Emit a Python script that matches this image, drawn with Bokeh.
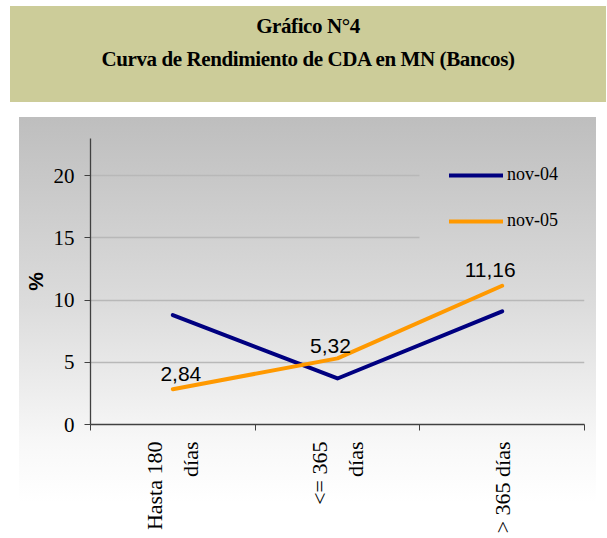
import math
from bokeh.plotting import figure
from bokeh.models import (FixedTicker, Legend, LegendItem, Div, Grid, Range1d)
from bokeh.layouts import column
from bokeh.embed import file_html
from bokeh.resources import INLINE
from bokeh.core.properties import value

# ---- data ----
categories = ["Hasta 180\ndías", "<= 365\ndías", "> 365 días"]
nov04 = [8.8, 3.7, 9.1]
nov05 = [2.84, 5.32, 11.16]
series_names = ["nov-04", "nov-05"]
y_ticks = [0, 5, 10, 15, 20]
title_line1 = "Gráfico N°4"
title_line2 = "Curva de Rendimiento de CDA en MN (Bancos)"

xc = [i + 0.5 for i in range(len(categories))]
label_texts = [f"{v:.2f}".replace(".", ",") for v in nov05]

# ---- title box ----
title = Div(
    text=(
        '<div style="width:596px;height:96px;background:#cccc99;'
        'text-align:center;font-family:\'Liberation Serif\', serif;font-weight:bold;'
        'font-size:21px;letter-spacing:-0.4px;line-height:33px;padding-top:4px;'
        'box-sizing:border-box;color:#000;">'
        f'{title_line1}<br>{title_line2}</div>'
    ),
    width=596, height=96, margin=(6, 0, 0, 10),
)

# ---- chart ----
p = figure(width=577, height=419, output_backend="svg", toolbar_location=None,
           x_range=Range1d(0, 3), y_range=Range1d(0, 23),
           min_border_left=71, min_border_right=12, min_border_top=21,
           min_border_bottom=110, margin=(15, 0, 0, 19))
p.background_fill_color = None
p.border_fill_color = None
p.outline_line_color = None
p.styles = {"background": "linear-gradient(to bottom, #bebebe 0%, #dcdcdc 45%, #f8f8f8 78%, #ffffff 92%)"}

p.xgrid.visible = False
p.ygrid.visible = False
g_low = Grid(dimension=1, ticker=FixedTicker(ticks=[5, 10]),
             grid_line_color="#b8b8b8", grid_line_width=1.5)
try:
    g_high = Grid(dimension=1, ticker=FixedTicker(ticks=[15, 20]),
                  grid_line_color="#b8b8b8", grid_line_width=1.5, cross_bounds=(0, 2))
except Exception:
    g_high = Grid(dimension=1, ticker=FixedTicker(ticks=[15, 20]),
                  grid_line_color="#b8b8b8", grid_line_width=1.5)
p.add_layout(g_low)
p.add_layout(g_high)

# y axis
ya = p.yaxis[0]
ya.ticker = FixedTicker(ticks=y_ticks)
ya.axis_label = "%"
ya.axis_label_text_font = "Liberation Sans"
ya.axis_label_text_font_style = "bold"
ya.axis_label_text_font_size = "21px"
ya.axis_label_text_color = "#000000"
ya.axis_label_standoff = 4
ya.major_label_text_font = "Liberation Serif"
ya.major_label_text_font_size = "21px"
ya.major_label_text_color = "#000000"
ya.major_label_standoff = 10
ya.major_tick_out = 6
ya.major_tick_in = 0
ya.minor_tick_line_color = None
ya.axis_line_color = "#404040"
ya.major_tick_line_color = "#404040"
ya.axis_line_width = 1.3

# x axis
xa = p.xaxis[0]
xa.ticker = FixedTicker(ticks=xc, minor_ticks=list(range(len(categories) + 1)))
xa.major_label_overrides = {x: c for x, c in zip(xc, categories)}
xa.major_label_orientation = math.pi / 2
xa.major_label_text_font = "Liberation Serif"
xa.major_label_text_font_size = "22px"
xa.major_label_text_color = "#000000"
xa.major_label_text_line_height = 1.45
xa.major_label_standoff = 11
xa.major_tick_line_color = None
xa.major_tick_out = 0
xa.minor_tick_out = 6
xa.minor_tick_in = 0
xa.minor_tick_line_color = "#404040"
xa.axis_line_color = "#404040"
xa.axis_line_width = 1.3

r1 = p.line(xc, nov04, line_color="#000080", line_width=4, line_cap="round", line_join="round")
r2 = p.line(xc, nov05, line_color="#ff9900", line_width=4, line_cap="round", line_join="round")

p.text(x=xc, y=nov05, text=label_texts, x_offset=[8, -7, -12], y_offset=[-15, -12, -16],
       text_align="center", text_baseline="alphabetic",
       text_font=value("Liberation Sans"), text_font_size="21px", text_color="#000000")

legend = Legend(items=[LegendItem(label=series_names[0], renderers=[r1]),
                       LegendItem(label=series_names[1], renderers=[r2])],
                location=(359, 193), padding=0, margin=0,
                background_fill_alpha=0, border_line_color=None,
                glyph_width=54, glyph_height=20, label_height=20, spacing=25,
                label_standoff=4, label_text_font="Liberation Serif",
                label_text_font_size="18px", label_text_color="#000000")
p.add_layout(legend)

layout = column(title, p, spacing=0)
open("out.html", "w").write(file_html(layout, INLINE))
